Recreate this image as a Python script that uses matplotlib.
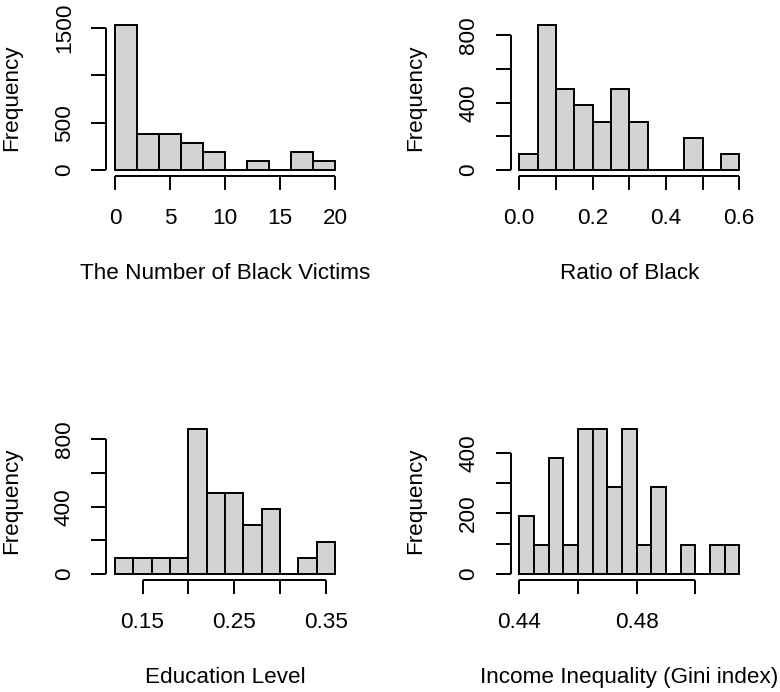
import numpy as np
import matplotlib
matplotlib.use("Agg")
import matplotlib.pyplot as plt

plt.rcParams['font.family'] = ['Liberation Sans', 'DejaVu Sans']

# ---- data (histogram bin edges and frequencies) ----
victims_edges = [0, 2, 4, 6, 8, 10, 12, 14, 16, 18, 20]
victims_counts = [1536, 384, 384, 288, 192, 0, 96, 0, 192, 96]

ratio_edges = [0.0, 0.05, 0.10, 0.15, 0.20, 0.25, 0.30, 0.35, 0.40, 0.45, 0.50, 0.55, 0.60]
ratio_counts = [96, 864, 480, 384, 288, 480, 288, 0, 0, 192, 0, 96]

edu_edges = [0.12, 0.14, 0.16, 0.18, 0.20, 0.22, 0.24, 0.26, 0.28, 0.30, 0.32, 0.34, 0.36]
edu_counts = [96, 96, 96, 96, 864, 480, 480, 288, 384, 0, 96, 192]

gini_edges = [0.440, 0.445, 0.450, 0.455, 0.460, 0.465, 0.470, 0.475, 0.480,
              0.485, 0.490, 0.495, 0.500, 0.505, 0.510, 0.515]
gini_counts = [192, 96, 384, 96, 480, 480, 288, 480, 96, 288, 0, 96, 0, 96, 96]

panels = [
    dict(edges=victims_edges, counts=victims_counts, xlabel="The Number of Black Victims",
         xticks=[0, 5, 10, 15, 20], xlabels=["0", "5", "10", "15", "20"],
         yticks=[0, 500, 1000, 1500], ylabels=["0", "500", "", "1500"]),
    dict(edges=ratio_edges, counts=ratio_counts, xlabel="Ratio of Black",
         xticks=[0.0, 0.1, 0.2, 0.3, 0.4, 0.5, 0.6],
         xlabels=["0.0", "", "0.2", "", "0.4", "", "0.6"],
         yticks=[0, 200, 400, 600, 800], ylabels=["0", "", "400", "", "800"]),
    dict(edges=edu_edges, counts=edu_counts, xlabel="Education Level",
         xticks=[0.15, 0.20, 0.25, 0.30, 0.35],
         xlabels=["0.15", "", "0.25", "", "0.35"],
         yticks=[0, 200, 400, 600, 800], ylabels=["0", "", "400", "", "800"]),
    dict(edges=gini_edges, counts=gini_counts, xlabel="Income Inequality (Gini index)",
         xticks=[0.44, 0.46, 0.48, 0.50],
         xlabels=["0.44", "", "0.48", ""],
         yticks=[0, 100, 200, 300, 400], ylabels=["0", "", "200", "", "400"]),
]

W, H = 780, 692
fig = plt.figure(figsize=(W / 100, H / 100), dpi=100)

# plot-region rectangles in pixels (left, top, right, bottom)
rects = [(106.2, 18.9, 343.8, 175.8), (510.5, 18.9, 748.1, 175.8),
         (106.2, 422.7, 343.8, 579.8), (510.5, 422.7, 748.1, 579.8)]

FS = 16.2
LW = 1.4
for p, (l, t, r, b) in zip(panels, rects):
    ax = fig.add_axes([l / W, 1 - b / H, (r - l) / W, (b - t) / H])
    edges = np.array(p["edges"], dtype=float)
    counts = np.array(p["counts"], dtype=float)
    ax.bar(edges[:-1], counts, width=np.diff(edges), align="edge",
           color="#D3D3D3", edgecolor="black", linewidth=LW)
    rng = edges[-1] - edges[0]
    ax.set_xlim(edges[0] - 0.04 * rng, edges[-1] + 0.04 * rng)
    m = counts.max()
    ax.set_ylim(-0.04 * m, 1.04 * m)
    for s in ("top", "right"):
        ax.spines[s].set_visible(False)
    ax.spines["left"].set_bounds(p["yticks"][0], p["yticks"][-1])
    ax.spines["bottom"].set_bounds(p["xticks"][0], p["xticks"][-1])
    for s in ("left", "bottom"):
        ax.spines[s].set_linewidth(LW)
        ax.spines[s].set_capstyle("butt")
    ax.set_xticks(p["xticks"])
    ax.set_xticklabels(p["xlabels"])
    ax.set_yticks(p["yticks"])
    ax.set_yticklabels(p["ylabels"])
    ax.tick_params(axis="x", length=10, width=LW, labelsize=FS, pad=13)
    ax.tick_params(axis="y", length=10.5, width=LW, labelsize=FS, pad=12)
    for lab in ax.get_yticklabels():
        lab.set_rotation(90)
        lab.set_va("center")
    ax.set_xlabel(p["xlabel"], fontsize=FS, labelpad=25)
    ax.set_ylabel("Frequency", fontsize=FS, labelpad=23)
    ax.patch.set_visible(False)

fig.savefig("out.png", dpi=100)
